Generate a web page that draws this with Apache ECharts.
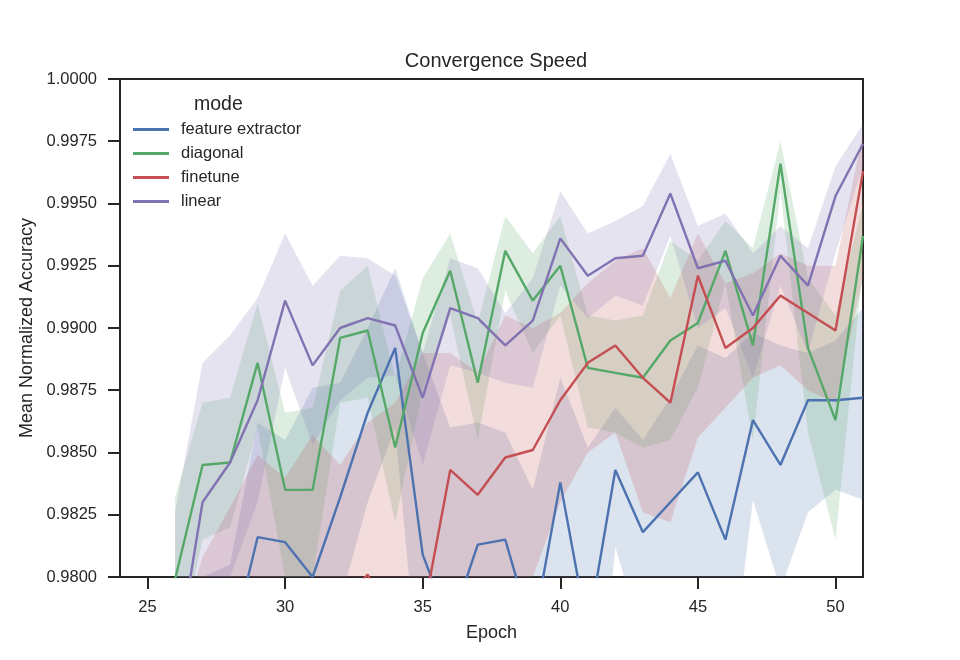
<!DOCTYPE html>
<html>
<head>
<meta charset="utf-8">
<script src="https://cdn.jsdelivr.net/npm/echarts@6/dist/echarts.min.js"></script>
<style>
  html, body { margin: 0; padding: 0; background: #fff; }
  #chart { width: 960px; height: 660px; }
</style>
</head>
<body>
<div id="chart"></div>
<script>
// epochs shown on the chart
var epochs = [26, 27, 28, 29, 30, 31, 32, 33, 34, 35, 36, 37, 38, 39, 40, 41, 42, 43, 44, 45, 46, 47, 48, 49, 50, 51];
var xTicks = [25, 30, 35, 40, 45, 50];
var yTicks = [0.98, 0.9825, 0.985, 0.9875, 0.99, 0.9925, 0.995, 0.9975, 1.0];

// feature extractor
var featMean  = [0.9700, 0.9740, 0.9770, 0.9816, 0.9814, 0.9800, 0.9832, 0.9866, 0.9892, 0.9809, 0.9780, 0.9813, 0.9815, 0.9777, 0.9838, 0.9778, 0.9843, 0.9818, 0.9830, 0.9842, 0.9815, 0.9863, 0.9845, 0.9871, 0.9871, 0.9872];
var featLower = [0.9600, 0.9660, 0.9720, 0.9760, 0.9770, 0.9745, 0.9790, 0.9830, 0.9860, 0.9740, 0.9700, 0.9755, 0.9765, 0.9720, 0.9775, 0.9700, 0.9812, 0.9775, 0.9780, 0.9785, 0.9740, 0.9831, 0.9795, 0.9826, 0.9835, 0.9831];
var featUpper = [0.9780, 0.9800, 0.9805, 0.9862, 0.9855, 0.9876, 0.9878, 0.9900, 0.9924, 0.9890, 0.9860, 0.9862, 0.9858, 0.9835, 0.9880, 0.9852, 0.9868, 0.9855, 0.9872, 0.9893, 0.9888, 0.9898, 0.9893, 0.9890, 0.9895, 0.9908];

// diagonal
var diagMean  = [0.9799, 0.9845, 0.9846, 0.9886, 0.9835, 0.9835, 0.9896, 0.9899, 0.9852, 0.9898, 0.9923, 0.9878, 0.9931, 0.9911, 0.9925, 0.9884, 0.9882, 0.9880, 0.9895, 0.9902, 0.9931, 0.9893, 0.9966, 0.9892, 0.9863, 0.9937];
var diagLower = [0.9765, 0.9815, 0.9820, 0.9860, 0.9800, 0.9800, 0.9870, 0.9872, 0.9822, 0.9875, 0.9905, 0.9855, 0.9915, 0.9890, 0.9905, 0.9860, 0.9858, 0.9852, 0.9855, 0.9876, 0.9918, 0.9855, 0.9955, 0.9858, 0.9815, 0.9925];
var diagUpper = [0.9832, 0.9870, 0.9872, 0.9910, 0.9866, 0.9868, 0.9915, 0.9925, 0.9880, 0.9920, 0.9938, 0.9902, 0.9945, 0.9930, 0.9945, 0.9905, 0.9903, 0.9905, 0.9935, 0.9927, 0.9943, 0.9932, 0.9975, 0.9920, 0.9905, 0.9950];

// finetune
var fineMean  = [0.9700, 0.9720, 0.9740, 0.9755, 0.9765, 0.9775, 0.9788, 0.9801, 0.9776, 0.9784, 0.9843, 0.9833, 0.9848, 0.9851, 0.9871, 0.9886, 0.9893, 0.9880, 0.9870, 0.9921, 0.9892, 0.9900, 0.9913, 0.9906, 0.9899, 0.9963];
var fineLower = [0.9620, 0.9640, 0.9660, 0.9670, 0.9680, 0.9690, 0.9700, 0.9720, 0.9700, 0.9700, 0.9790, 0.9778, 0.9792, 0.9800, 0.9830, 0.9850, 0.9858, 0.9826, 0.9822, 0.9856, 0.9868, 0.9880, 0.9885, 0.9875, 0.9870, 0.9920];
var fineUpper = [0.9770, 0.9808, 0.9828, 0.9849, 0.9840, 0.9857, 0.9845, 0.9862, 0.9870, 0.9890, 0.9890, 0.9882, 0.9905, 0.9900, 0.9906, 0.9918, 0.9927, 0.9932, 0.9912, 0.9938, 0.9918, 0.9922, 0.9930, 0.9925, 0.9925, 0.9978];

// linear
var linMean  = [0.9762, 0.9830, 0.9846, 0.9871, 0.9911, 0.9885, 0.9900, 0.9904, 0.9901, 0.9872, 0.9908, 0.9904, 0.9893, 0.9903, 0.9936, 0.9921, 0.9928, 0.9929, 0.9954, 0.9924, 0.9927, 0.9905, 0.9929, 0.9917, 0.9953, 0.9974];
var linLower = [0.9660, 0.9780, 0.9800, 0.9830, 0.9884, 0.9853, 0.9871, 0.9880, 0.9881, 0.9845, 0.9885, 0.9882, 0.9878, 0.9876, 0.9917, 0.9904, 0.9913, 0.9909, 0.9937, 0.9900, 0.9908, 0.9880, 0.9917, 0.9890, 0.9930, 0.9965];
var linUpper = [0.9826, 0.9886, 0.9897, 0.9912, 0.9938, 0.9917, 0.9929, 0.9928, 0.9921, 0.9890, 0.9928, 0.9924, 0.9906, 0.9920, 0.9955, 0.9938, 0.9943, 0.9949, 0.9970, 0.9941, 0.9946, 0.9930, 0.9941, 0.9932, 0.9965, 0.9982];

var modes = ['feature extractor', 'diagonal', 'finetune', 'linear'];
var colors = ['#4C72B0', '#55A868', '#C44E52', '#8172B2'];
var means = [featMean, diagMean, fineMean, linMean];
var lowers = [featLower, diagLower, fineLower, linLower];
var uppers = [featUpper, diagUpper, fineUpper, linUpper];

var font = 'Liberation Sans, Arial, sans-serif';
var ink = '#262626';

function pairs(ys){
	return epochs.map(function(e, i){ return [e, ys[i]]; });
}

// ci band drawn as one polygon, points go through api.coord
function bandRenderer(k){
	return function(params, api){
		if(params.dataIndex !== 0) return null;
		var top = [], bottom = [];
		for(var i = 0; i < epochs.length; i++){
			top.push(api.coord([epochs[i], uppers[k][i]]));
			bottom.unshift(api.coord([epochs[i], lowers[k][i]]));
		}
		var cs = params.coordSys;
		return {
			type: 'polygon',
			shape: {points: top.concat(bottom)},
			style: {fill: colors[k], opacity: 0.2},
			clipPath: {type: 'rect', shape: {x: cs.x, y: cs.y, width: cs.width, height: cs.height}},
			silent: true
		};
	};
}

var series = [];
modes.forEach(function(mode, k){
	series.push({
		name: mode + ' ci', type: 'custom',
		data: epochs.map(function(e, i){ return [e, lowers[k][i], uppers[k][i]]; }),
		encode: {x: 0, y: [1, 2]},
		renderItem: bandRenderer(k),
		silent: true
	});
	series.push({
		name: mode, type: 'line', data: pairs(means[k]),
		symbol: 'none', itemStyle: {color: colors[k]},
		lineStyle: {color: colors[k], width: 2.4}
	});
});

var chart = echarts.init(document.getElementById('chart'), null, {renderer: 'canvas'});
chart.setOption({
	animation: false,
	backgroundColor: '#fff',
	title: {
		text: 'Convergence Speed',
		left: 491, top: 46, textAlign: 'center',
		textStyle: {fontFamily: font, fontSize: 20, fontWeight: 'normal', color: ink}
	},
	grid: {
		left: 120, right: 97, top: 79, bottom: 83,
		show: true, borderColor: ink, borderWidth: 2, backgroundColor: 'transparent'
	},
	legend: {
		data: modes,
		orient: 'vertical',
		left: 133, top: 121,
		padding: 0,
		itemGap: 7,
		itemWidth: 36, itemHeight: 3,
		icon: 'rect',
		textStyle: {fontFamily: font, fontSize: 16.5, color: ink, padding: [0, 0, 0, 7]}
	},
	graphic: [{
		type: 'text', left: 194, top: 95,
		style: {text: 'mode', font: '19.5px ' + font, fill: ink}
	}],
	xAxis: {
		type: 'value', min: 24, max: 51,
		name: 'Epoch', nameLocation: 'middle', nameGap: 47,
		nameTextStyle: {fontFamily: font, fontSize: 18, color: ink},
		axisLine: {show: false},
		axisTick: {show: true, inside: false, length: 12, customValues: xTicks, lineStyle: {color: ink, width: 2}},
		axisLabel: {customValues: xTicks, margin: 22, fontFamily: font, fontSize: 16.5, color: ink},
		splitLine: {show: false}
	},
	yAxis: {
		type: 'value', min: 0.98, max: 1.0,
		name: 'Mean Normalized Accuracy', nameLocation: 'middle', nameGap: 83,
		nameTextStyle: {fontFamily: font, fontSize: 18, color: ink},
		axisLine: {show: false},
		axisTick: {show: true, inside: false, length: 12, customValues: yTicks, lineStyle: {color: ink, width: 2}},
		axisLabel: {
			customValues: yTicks, margin: 23, fontFamily: font, fontSize: 16.5, color: ink,
			formatter: function(v){ return v.toFixed(4); }
		},
		splitLine: {show: false}
	},
	series: series
});
</script>
</body>
</html>
